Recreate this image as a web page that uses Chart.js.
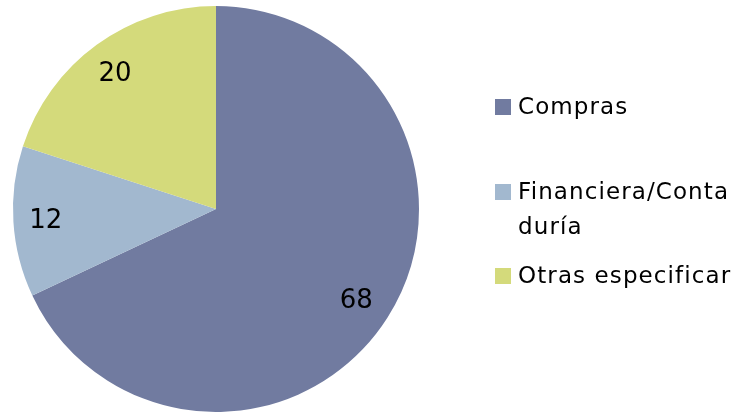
<!DOCTYPE html>
<html><head><meta charset="utf-8">
<script src="https://cdn.jsdelivr.net/npm/chart.js@4/dist/chart.umd.min.js"></script>
<style>html,body{margin:0;padding:0;background:#fff}#wrap{width:740px;height:412px;position:relative}</style>
</head><body><div id="wrap"><canvas id="c" width="740" height="412"></canvas></div>
<script>
const categories = ["Compras", ["Financiera/Conta", "duría"], "Otras especificar"];
const values = [68, 12, 20];
const colors = ["#717ba0", "#a2b8cf", "#d4da7b"];
const FONT = "'DejaVu Sans', sans-serif";

const labelPlugin = {
  id: 'sliceLabels',
  afterDatasetsDraw(chart) {
    const ctx = chart.ctx;
    const meta = chart.getDatasetMeta(0);
    ctx.save();
    ctx.font = "26px " + FONT;
    ctx.fillStyle = "#000";
    ctx.textAlign = "center";
    ctx.textBaseline = "middle";
    meta.data.forEach((arc, i) => {
      const p = arc.getProps(['x','y','startAngle','endAngle','outerRadius'], true);
      const mid = (p.startAngle + p.endAngle) / 2;
      const r = p.outerRadius * 0.83;
      ctx.fillText(String(values[i]), p.x + Math.cos(mid) * r - 2, p.y + Math.sin(mid) * r + 2);
    });
    ctx.restore();
  }
};

const legendPlugin = {
  id: 'customLegend',
  afterDraw(chart) {
    const ctx = chart.ctx;
    const ys = [107, 192, 276];
    ctx.save();
    ctx.font = "23px " + FONT;
    if ('letterSpacing' in ctx) ctx.letterSpacing = "1.1px";
    ctx.textBaseline = "middle";
    ctx.textAlign = "left";
    categories.forEach((cat, i) => {
      ctx.fillStyle = colors[i];
      ctx.fillRect(495, ys[i] - 8, 16, 16);
      ctx.fillStyle = "#000";
      const lines = Array.isArray(cat) ? cat : [cat];
      lines.forEach((ln, j) => ctx.fillText(ln, 518, ys[i] + 1 + j * 35));
    });
    ctx.restore();
  }
};

new Chart(document.getElementById('c'), {
  type: 'pie',
  data: {
    labels: categories.map(c => Array.isArray(c) ? c.join('') : c),
    datasets: [{ data: values, backgroundColor: colors, borderWidth: 0 }]
  },
  options: {
    responsive: false,
    animation: false,
    layout: { padding: { left: 13, right: 321, top: 6, bottom: 0 } },
    plugins: { legend: { display: false }, tooltip: { enabled: false } }
  },
  plugins: [labelPlugin, legendPlugin]
});
</script></body></html>
